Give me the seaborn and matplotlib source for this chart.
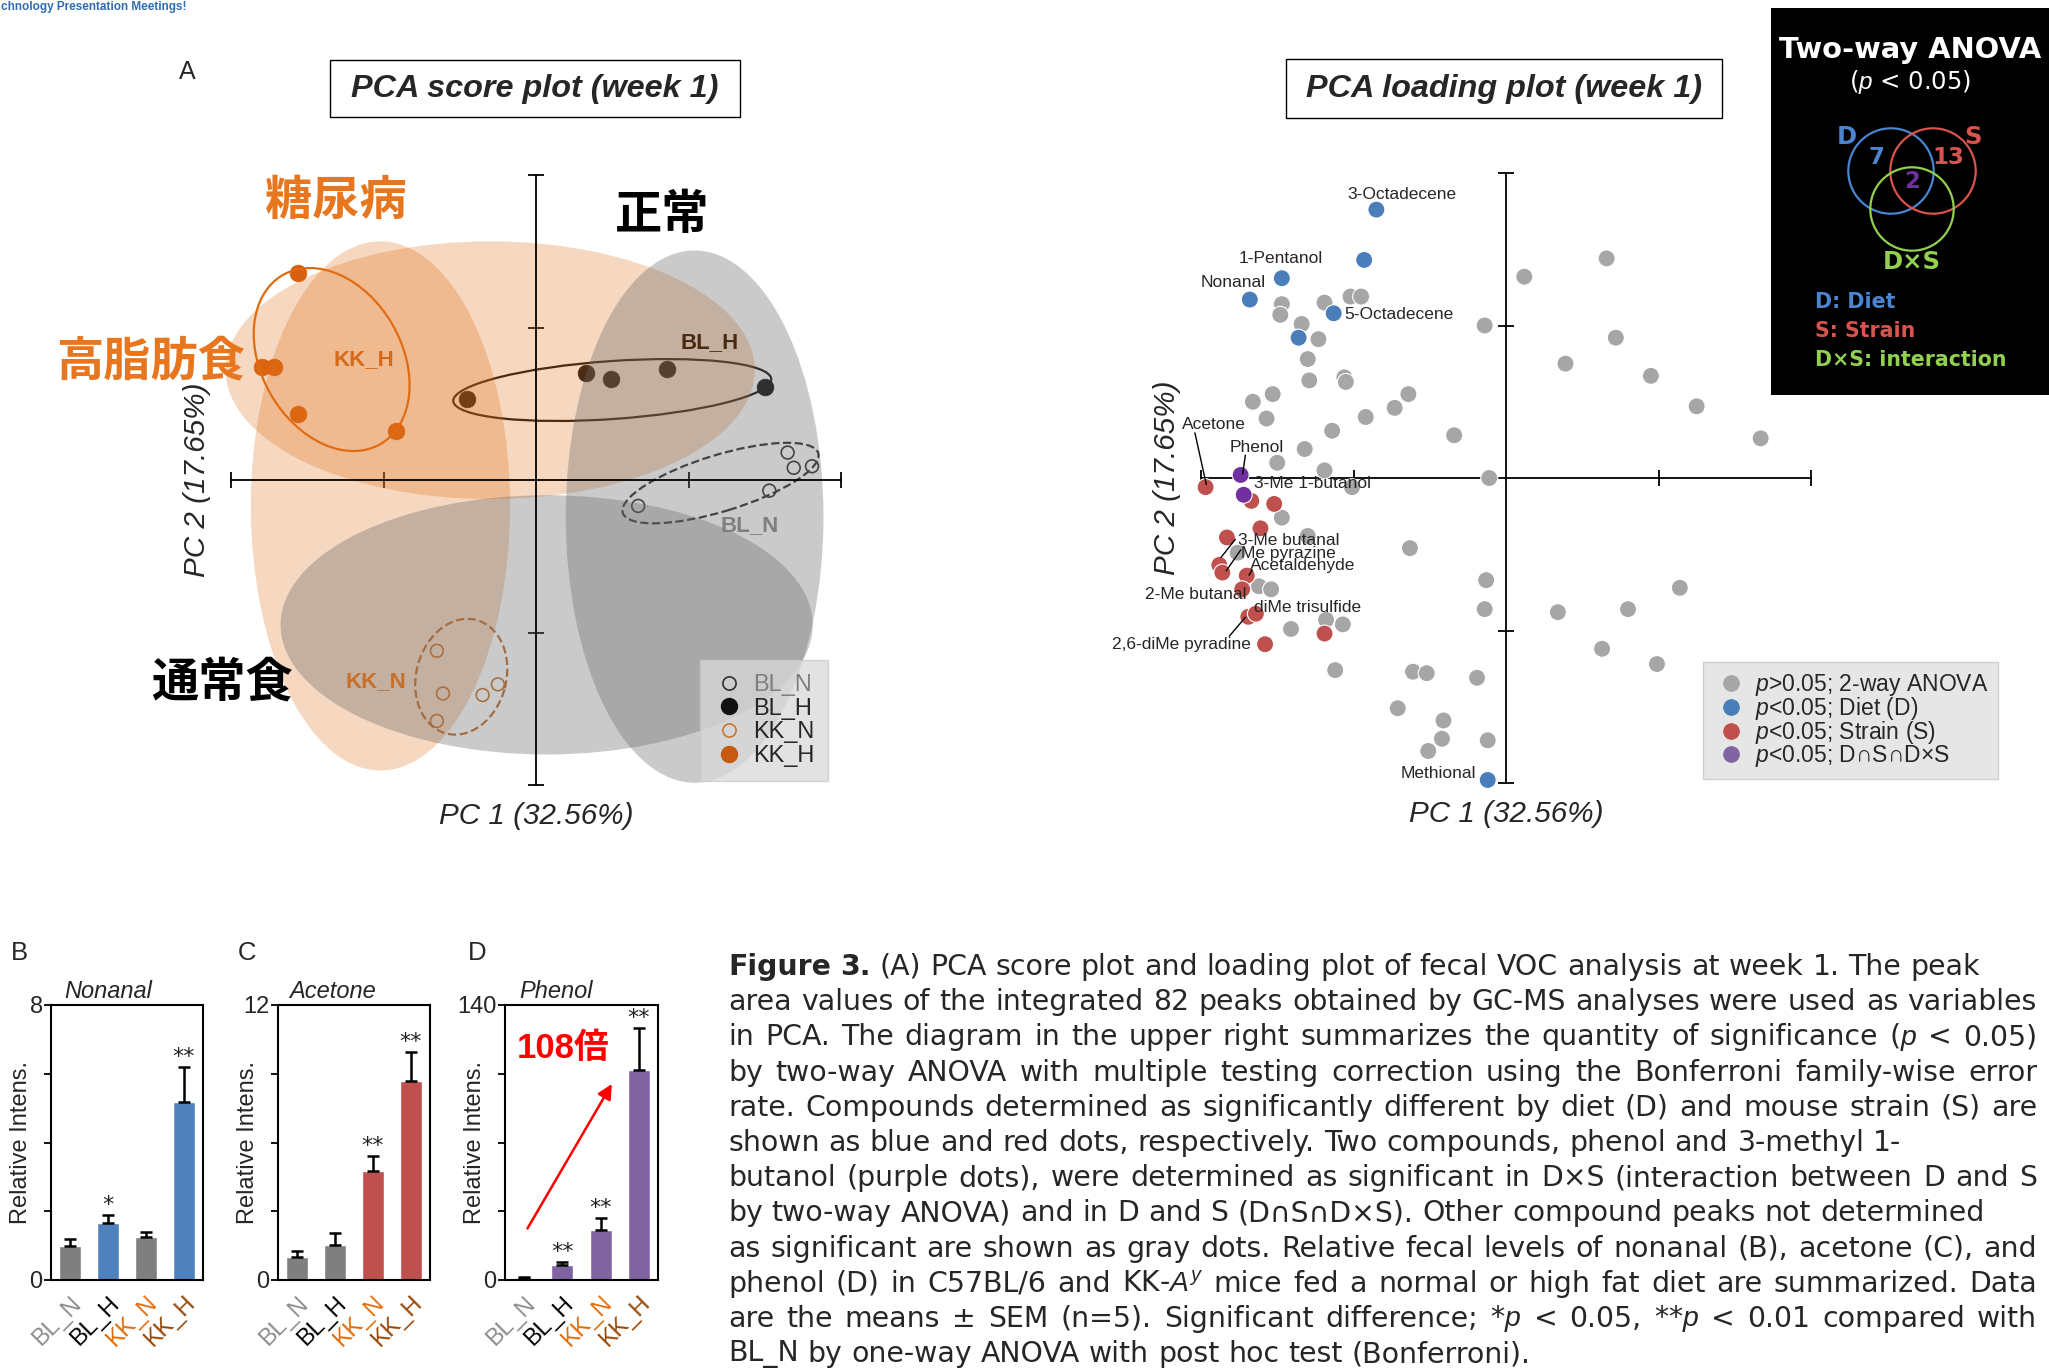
import matplotlib
matplotlib.use('Agg')
import matplotlib.pyplot as plt
import matplotlib.transforms as mtransforms
import seaborn as sns
import pandas as pd
from matplotlib.patches import Ellipse, Circle, Rectangle
from matplotlib.lines import Line2D

W, H = 2049, 1370

# ---- PCA score plot (week 1): PC1 / PC2 score of each mouse ----
score_groups = ['BL_N', 'BL_H', 'KK_N', 'KK_H']
bl_n_pc1 = [0.67, 1.53, 1.65, 1.69, 1.81]
bl_n_pc2 = [-0.17, -0.07, 0.18, 0.08, 0.09]
bl_h_pc1 = [-0.45, 0.33, 0.49, 0.86, 1.50]
bl_h_pc2 = [0.53, 0.70, 0.66, 0.73, 0.61]
kk_n_pc1 = [-0.65, -0.61, -0.35, -0.25, -0.65]
kk_n_pc2 = [-1.12, -1.40, -1.41, -1.34, -1.58]
kk_h_pc1 = [-1.56, -1.80, -1.72, -1.56, -0.92]
kk_h_pc2 = [1.36, 0.74, 0.74, 0.43, 0.32]

# ---- PCA loading plot (week 1) ----
gray_pc1 = [-1.47, -1.48, -1.19, -1.02, -0.95, -1.34, -1.23, -1.30, -1.29, -1.06,
            -1.05, -1.53, -1.66, -1.57, -0.92, -0.64, -0.73, -1.14, -0.34, -1.32,
            -1.50, -1.19, -0.11, -1.01, -1.47, -1.30, -1.76, -0.63, -1.62, -1.54,
            -0.13, -0.14, -1.18, -1.07, -1.41, -1.12, -0.61, -0.52, -0.19, -0.71,
            -0.41, -0.42, -0.12, -0.51, -0.14, 0.12, 0.66, 0.72, 0.39, 0.95,
            1.25, 1.67, 1.14, 0.34, 0.80, 0.63, 0.99]
gray_pc2 = [1.14, 1.07, 1.15, 1.19, 1.19, 1.01, 0.91, 0.78, 0.64, 0.66,
            0.63, 0.55, 0.50, 0.39, 0.40, 0.55, 0.46, 0.31, 0.28, 0.19,
            0.10, 0.05, 0.00, -0.06, -0.26, -0.38, -0.49, -0.46, -0.71, -0.73,
            -0.67, -0.86, -0.93, -0.96, -0.99, -1.26, -1.27, -1.28, -1.31, -1.51,
            -1.59, -1.71, -1.72, -1.79, 1.00, 1.32, 1.44, 0.92, 0.75, 0.67,
            0.47, 0.26, -0.72, -0.88, -0.86, -1.12, -1.22]
diet_pc1 = [-0.85, -0.93, -1.47, -1.68, -1.13, -1.36, -0.12]
diet_pc2 = [1.76, 1.43, 1.31, 1.17, 1.08, 0.92, -1.98]
strain_pc1 = [-1.97, -1.67, -1.52, -1.61, -1.83, -1.88, -1.86, -1.70, -1.73, -1.69, -1.64, -1.19, -1.58]
strain_pc2 = [-0.06, -0.15, -0.17, -0.33, -0.39, -0.57, -0.62, -0.64, -0.73, -0.91, -0.89, -1.02, -1.09]
both_pc1 = [-1.74, -1.72]
both_pc2 = [0.02, -0.11]
sig_labels = ['$p$>0.05; 2-way ANOVA', '$p$<0.05; Diet (D)', '$p$<0.05; Strain (S)', '$p$<0.05; D∩S∩D×S']

load_labels = [  # name, x, y, ha
    ('3-Octadecene', -0.68, 1.86, 'center'),
    ('1-Pentanol', -1.48, 1.44, 'center'),
    ('Nonanal', -1.79, 1.28, 'center'),
    ('5-Octadecene', -1.06, 1.075, 'left'),
    ('Acetone', -2.125, 0.354, 'left'),
    ('Phenol', -1.634, 0.202, 'center'),
    ('3-Me 1-butanol', -1.655, -0.035, 'left'),
    ('3-Me butanal', -1.76, -0.408, 'left'),
    ('Me pyrazine', -1.739, -0.493, 'left'),
    ('Acetaldehyde', -1.679, -0.576, 'left'),
    ('2-Me butanal', -1.703, -0.766, 'right'),
    ('diMe trisulfide', -1.655, -0.846, 'left'),
    ('2,6-diMe pyradine', -1.67, -1.089, 'right'),
    ('Methional', -0.197, -1.939, 'right'),
]
leader_lines = [(-2.04, 0.296, -1.965, -0.043), (-1.709, 0.150, -1.727, 0.026),
                (-1.775, -0.402, -1.869, -0.521), (-1.739, -0.471, -1.835, -0.609),
                (-1.664, -0.603, -1.685, -0.637), (-1.814, -1.037, -1.709, -0.913)]

# ---- two-way ANOVA summary ----
venn_sets = ['D', 'S', 'D×S']
venn_counts = ['7', '13', '2']

# ---- bar charts (mean, SEM, n=5) ----
bar_groups = ['BL_N', 'BL_H', 'KK_N', 'KK_H']
nonanal_mean = [0.99, 1.66, 1.24, 5.18]
nonanal_sem = [0.19, 0.24, 0.15, 1.01]
nonanal_marks = ['', '*', '', '**']
acetone_mean = [0.99, 1.51, 4.76, 8.68]
acetone_sem = [0.28, 0.52, 0.64, 1.27]
acetone_marks = ['', '', '**', '**']
phenol_mean = [0.99, 7.6, 25.5, 106.9]
phenol_sem = [0.4, 1.5, 5.9, 21.2]
phenol_marks = ['', '**', '**', '**']

caption_lines = [
    'Figure 3. (A) PCA score plot and loading plot of fecal VOC analysis at week 1. The peak',
    'area values of the integrated 82 peaks obtained by GC-MS analyses were used as variables',
    'in PCA. The diagram in the upper right summarizes the quantity of significance ($p$ < 0.05)',
    'by two-way ANOVA with multiple testing correction using the Bonferroni family-wise error',
    'rate. Compounds determined as significantly different by diet (D) and mouse strain (S) are',
    'shown as blue and red dots, respectively. Two compounds, phenol and 3-methyl 1-',
    'butanol (purple dots), were determined as significant in D×S (interaction between D and S',
    'by two-way ANOVA) and in D and S (D∩S∩D×S). Other compound peaks not determined',
    'as significant are shown as gray dots. Relative fecal levels of nonanal (B), acetone (C), and',
    'phenol (D) in C57BL/6 and KK-$A^y$ mice fed a normal or high fat diet are summarized. Data',
    'are the means ± SEM (n=5). Significant difference; *$p$ < 0.05, **$p$ < 0.01 compared with',
    'BL_N by one-way ANOVA with post hoc test (Bonferroni).',
]
cap_justified = [False, True, True, True, True, False, True, False, True, True, True, False]

sns.set_theme(style='white')
plt.rcParams['font.family'] = ['Liberation Sans', 'Noto Sans CJK JP', 'DejaVu Sans']
plt.rcParams['mathtext.fontset'] = 'custom'
plt.rcParams['mathtext.rm'] = 'Liberation Sans'
plt.rcParams['mathtext.it'] = 'Liberation Sans:italic'
plt.rcParams['mathtext.bf'] = 'Liberation Sans:bold'

fig = plt.figure(figsize=(W / 100, H / 100), dpi=100)
fig.patch.set_facecolor('white')
CJK = ['Noto Sans CJK JP', 'DejaVu Sans']
DJ = 'DejaVu Sans'


def px_axes(l, t, r, b):
    return fig.add_axes([l / W, 1 - b / H, (r - l) / W, (b - t) / H])


def fxy(x, y):
    return x / W, 1 - y / H


def style_cross(ax):
    ax.set_xlim(-2.2, 2.2)
    ax.set_ylim(-2.2, 2.2)
    ax.set_facecolor('none')
    ax.spines['top'].set_visible(False)
    ax.spines['right'].set_visible(False)
    for s in ['left', 'bottom']:
        ax.spines[s].set_position(('data', 0))
        ax.spines[s].set_bounds(-2, 2)
        ax.spines[s].set_color('black')
        ax.spines[s].set_linewidth(1.3)
    ax.set_xticks([-2, -1, 1, 2])
    ax.set_yticks([-2, -1, 1, 2])
    ax.tick_params(direction='inout', length=11, width=1.3, color='black',
                   left=True, bottom=True, labelleft=False, labelbottom=False)
    ax.set_xlabel('')
    ax.set_ylabel('')
    ax.text(0, -2.2, 'PC 1 (32.56%)', ha='center', va='center', style='italic', fontsize=21.3)
    ax.text(-2.22, 0, 'PC 2 (17.65%)', ha='center', va='center', style='italic',
            fontsize=21.3, rotation=90)


# ================= score plot =================
ax = px_axes(200.5, 144.5, 871.5, 815.5)
score_df = pd.DataFrame({
    'PC1': bl_n_pc1 + bl_h_pc1 + kk_n_pc1 + kk_h_pc1,
    'PC2': bl_n_pc2 + bl_h_pc2 + kk_n_pc2 + kk_h_pc2,
    'group': [g for g in score_groups for _ in range(5)],
})
score_style = {
    'BL_N': dict(facecolor='none', edgecolor='#303030', s=85, linewidth=1.2),
    'BL_H': dict(facecolor='#111111', edgecolor='#111111', s=145, linewidth=0.5),
    'KK_N': dict(facecolor='none', edgecolor='#C8762F', s=85, linewidth=1.2),
    'KK_H': dict(facecolor='#D9600F', edgecolor='#D9600F', s=145, linewidth=0.5),
}
for g in score_groups:
    sns.scatterplot(data=score_df[score_df['group'] == g], x='PC1', y='PC2', ax=ax,
                    marker='o', legend=False, zorder=1, **score_style[g])

group_ellipses = [  # cx, cy, width, height, angle, color, linestyle
    (1.21, -0.02, 1.34, 0.37, 17, '#303030', '--'),
    (0.50, 0.59, 2.09, 0.38, 4, '#111111', '-'),
    (-0.49, -1.29, 0.77, 0.59, 75, '#C0702F', '--'),
    (-1.34, 0.79, 1.28, 0.92, -60, '#E06A10', '-'),
]
for cx, cy, w, h, a, c, ls in group_ellipses:
    ax.add_patch(Ellipse((cx, cy), w, h, angle=a, fill=False, ec=c, ls=ls, lw=1.6, zorder=1.5))

orange, gray = '#E27019', '#696969'
region_ellipses = [  # cx, cy, width, height, color, alpha
    (-0.30, 0.72, 3.47, 1.69, orange, 0.28),
    (-1.02, -0.17, 1.70, 3.47, orange, 0.28),
    (0.07, -0.95, 3.49, 1.70, gray, 0.35),
    (1.04, -0.24, 1.69, 3.49, gray, 0.35),
]
for cx, cy, w, h, c, al in region_ellipses:
    ax.add_patch(Ellipse((cx, cy), w, h, fc=c, ec='none', alpha=al, zorder=2))

style_cross(ax)

ax.text(-1.13, 0.79, 'KK_H', color='#D46A1A', fontsize=16, weight='bold', ha='center', va='center')
ax.text(1.14, 0.90, 'BL_H', color='#4A2A10', fontsize=16, weight='bold', ha='center', va='center')
ax.text(1.40, -0.30, 'BL_N', color='#7F7F7F', fontsize=16, weight='bold', ha='center', va='center')
ax.text(-1.05, -1.32, 'KK_N', color='#C8702A', fontsize=16, weight='bold', ha='center', va='center')
for txt, x, y, c in [('糖尿病', -1.31, 1.83, '#E8761F'), ('高脂肪食', -2.53, 0.78, '#E8761F'),
                     ('正常', 0.83, 1.74, 'black'), ('通常食', -2.06, -1.33, 'black')]:
    ax.text(x, y, txt, color=c, fontsize=34, weight='bold', family=CJK,
            ha='center', va='center', zorder=4)

score_handles = [
    Line2D([], [], ls='', marker='o', mfc='none', mec='#303030', ms=9.5, mew=1.2, label='BL_N'),
    Line2D([], [], ls='', marker='o', mfc='#111111', mec='#111111', ms=11.5, label='BL_H'),
    Line2D([], [], ls='', marker='o', mfc='none', mec='#C8762F', ms=9.5, mew=1.2, label='KK_N'),
    Line2D([], [], ls='', marker='o', mfc='#C55A11', mec='#C55A11', ms=11.5, label='KK_H'),
]
leg = ax.legend(handles=score_handles, loc='upper left', bbox_to_anchor=(0.744, 0.232),
                frameon=True, fancybox=False, framealpha=0.75, facecolor='#D9D9D9',
                edgecolor='#C8C8C8', fontsize=17, handletextpad=0.35, labelspacing=0.07,
                borderpad=0.6, handlelength=1.3, borderaxespad=0)
leg.set_zorder(5)
leg.get_texts()[0].set_color('#7F7F7F')

# ================= loading plot =================
ax2 = px_axes(1170.5, 142.5, 1841.5, 813.5)
load_df = pd.DataFrame({
    'PC1': gray_pc1 + diet_pc1 + strain_pc1 + both_pc1,
    'PC2': gray_pc2 + diet_pc2 + strain_pc2 + both_pc2,
    'sig': (['p>0.05'] * len(gray_pc1) + ['Diet'] * len(diet_pc1)
            + ['Strain'] * len(strain_pc1) + ['DSDxS'] * len(both_pc1)),
})
sig_palette = {'p>0.05': '#A6A6A6', 'Diet': '#4A7EBB', 'Strain': '#C0504D', 'DSDxS': '#7030A0'}
sns.scatterplot(data=load_df, x='PC1', y='PC2', hue='sig', palette=sig_palette, s=150,
                edgecolor='white', linewidth=0.8, legend=False, ax=ax2, zorder=3)
style_cross(ax2)
for name, x, y, ha in load_labels:
    ax2.text(x, y, name, fontsize=12.5, ha=ha, va='center', zorder=4)
for x0, y0, x1, y1 in leader_lines:
    ax2.plot([x0, x1], [y0, y1], color='black', lw=1, zorder=4)

legend_colors = ['#A6A6A6', '#4A7EBB', '#C0504D', '#8064A2']
load_handles = [Line2D([], [], ls='', marker='o', mfc=c, mec=c, ms=11, label=l)
                for c, l in zip(legend_colors, sig_labels)]
leg2 = ax2.legend(handles=load_handles, loc='upper left', bbox_to_anchor=(0.7936, 0.2258),
                  frameon=True, fancybox=False, framealpha=1, facecolor='#E6E6E6',
                  edgecolor='#D0D0D0', fontsize=16.5, handletextpad=0.3, labelspacing=-0.14,
                  borderpad=0.45, handlelength=1.5, borderaxespad=0)
leg2.set_zorder(5)

# ================= ANOVA box =================
axv = px_axes(1771, 8, 2049, 395)
axv.set_xlim(1771, 2049)
axv.set_ylim(395, 8)
axv.set_facecolor('black')
axv.set_xticks([])
axv.set_yticks([])
for s in axv.spines.values():
    s.set_visible(False)
venn_colors = ['#4A86D0', '#D9534F', '#92D050']
for (cx, cy, r), c in zip([(1891, 171, 42.7), (1933, 171, 42.7), (1912, 209, 41.7)], venn_colors):
    axv.add_patch(Circle((cx, cy), r, fill=False, ec=c, lw=1.6))
axv.text(1910, 50, 'Two-way ANOVA', color='white', fontsize=20.8, weight='bold', family=DJ,
         ha='center', va='center')
axv.text(1910, 82, '($p$ < 0.05)', color='white', fontsize=17.5, family=DJ, ha='center', va='center')
for (x, y), s, c in zip([(1847, 137), (1973, 137), (1912, 262)], venn_sets, venn_colors):
    axv.text(x, y, s, color=c, fontsize=17.5, weight='bold', family=DJ, ha='center', va='center')
for (x, y), n, c in zip([(1877, 157), (1948, 157), (1912, 182)], venn_counts,
                        ['#4A86D0', '#D9534F', '#7030A0']):
    axv.text(x, y, n, color=c, fontsize=16.5, weight='bold', family=DJ, ha='center', va='center')
for y, s, c in zip([302, 331, 360], ['D: Diet', 'S: Strain', 'D×S: interaction'], venn_colors):
    axv.text(1815, y, s, color=c, fontsize=14.8, weight='bold', family=DJ, ha='left', va='center')

# ================= titles =================
for (l, t, r, b), title in [((330, 60, 740, 117), 'PCA score plot (week 1)'),
                            ((1286, 59, 1722, 118), 'PCA loading plot (week 1)')]:
    fig.add_artist(Rectangle(fxy(l, b), (r - l) / W, (b - t) / H, transform=fig.transFigure,
                             fill=False, ec='black', lw=1))
    fig.text(*fxy((l + r) / 2, (t + b) / 2), title, fontsize=23.3, weight='bold',
             style='italic', ha='center', va='center')
fig.text(*fxy(187, 72), 'A', fontsize=18, ha='center', va='center')
fig.text(*fxy(1, 1), 'chnology Presentation Meetings!', fontsize=8.5, weight='bold',
         color='#2E6DB4', ha='left', va='top')

# ================= bar charts =================
tick_colors = ['#8C8C8C', '#000000', '#E36C09', '#984807']


def bar_panel(rect, title, title_x, letter, letter_x, means, sems, marks, colors, ymax):
    axb = px_axes(*rect)
    sns.barplot(x=bar_groups, y=means, hue=bar_groups, palette=colors, width=0.58,
                saturation=1, legend=False, errorbar=None, ax=axb)
    axb.errorbar(range(4), means, yerr=[[0] * 4, sems], fmt='none', ecolor='black',
                 elinewidth=1.8, capsize=4, capthick=1.8)
    for i, (m, s, mk) in enumerate(zip(means, sems, marks)):
        if mk:
            axb.annotate(mk, (i, m + s), xytext=(0, 0), textcoords='offset points',
                         ha='center', va='bottom', fontsize=16, color='#222222', family=DJ)
    axb.set_xlim(-0.5, 3.5)
    axb.set_ylim(0, ymax)
    axb.set_yticks([ymax * k / 4 for k in range(5)])
    axb.set_yticklabels(['0', '', '', '', f'{ymax:g}'], fontsize=17)
    axb.set_xticks(range(4))
    axb.set_xticklabels(bar_groups, rotation=45, ha='right', rotation_mode='anchor', fontsize=17)
    shift = mtransforms.ScaledTranslation(14 / 100, 5 / 100, fig.dpi_scale_trans)
    for lab, c in zip(axb.get_xticklabels(), tick_colors):
        lab.set_color(c)
        lab.set_transform(lab.get_transform() + shift)
    axb.tick_params(axis='y', left=True, direction='out', length=5, width=1.3, pad=1, color='black')
    axb.tick_params(axis='x', bottom=False, pad=3)
    for s in axb.spines.values():
        s.set_visible(True)
        s.set_color('black')
        s.set_linewidth(1.5)
    axb.set_xlabel('')
    axb.set_ylabel('Relative Intens.', fontsize=17)
    axb.yaxis.set_label_coords(-19 / 152, 0.5)
    fig.text(*fxy(title_x, 992), title, fontsize=17, style='italic', ha='left', va='center')
    fig.text(*fxy(letter_x, 953), letter, fontsize=18.5, ha='left', va='center')
    return axb


bar_panel((51, 1005, 203, 1280), 'Nonanal', 64, 'B', 11, nonanal_mean, nonanal_sem, nonanal_marks,
          ['#7F7F7F', '#4F81BD', '#7F7F7F', '#4F81BD'], 8)
bar_panel((278, 1005, 430, 1280), 'Acetone', 289, 'C', 238, acetone_mean, acetone_sem, acetone_marks,
          ['#7F7F7F', '#7F7F7F', '#C0504D', '#C0504D'], 12)
axd = bar_panel((505, 1005, 658, 1280), 'Phenol', 519, 'D', 468, phenol_mean, phenol_sem, phenol_marks,
                ['#8064A2'] * 4, 140)
axd.annotate('', xy=(2.33, 101), xytext=(0.05, 25),
             arrowprops=dict(arrowstyle='-|>', color='#FF0000', lw=1.8, mutation_scale=22))
axd.text(1.03, 118, '108倍', color='#FF0000', fontsize=25, weight='bold',
         family=['Liberation Sans', 'Noto Sans CJK JP'], ha='center', va='center')

# ================= caption (justified) =================
renderer = fig.canvas.get_renderer()
cap_left, cap_right = 728, 2037
cap_y0, cap_dy = 967, 35.2


def tw(t):
    return t.get_window_extent(renderer).width


probe = [fig.text(0, 0, line, fontsize=18, family=DJ) for line in caption_lines]
widest = max(tw(t) for t, j in zip(probe, cap_justified) if j)
for t in probe:
    t.remove()
cap_fs = 18 * (cap_right - cap_left) / widest * 0.995

sp = fig.text(0, 0, 'a a', fontsize=cap_fs, family=DJ)
sp2 = fig.text(0, 0, 'aa', fontsize=cap_fs, family=DJ)
space_w = tw(sp) - tw(sp2)
sp.remove()
sp2.remove()

for i, (line, just) in enumerate(zip(caption_lines, cap_justified)):
    words = line.split(' ')
    y = 1 - (cap_y0 + i * cap_dy) / H
    texts = []
    for k, w in enumerate(words):
        bold = (i == 0 and k < 2)
        texts.append(fig.text(0, y, w, fontsize=cap_fs, family=DJ, va='center', ha='left',
                              weight='bold' if bold else 'normal'))
    widths = [tw(t) for t in texts]
    if just and len(words) > 1:
        gap = (cap_right - cap_left - sum(widths)) / (len(words) - 1)
    else:
        gap = space_w
    x = cap_left
    for t, w in zip(texts, widths):
        t.set_x(x / W)
        x += w + gap

fig.savefig('out.png', dpi=100, facecolor='white')
